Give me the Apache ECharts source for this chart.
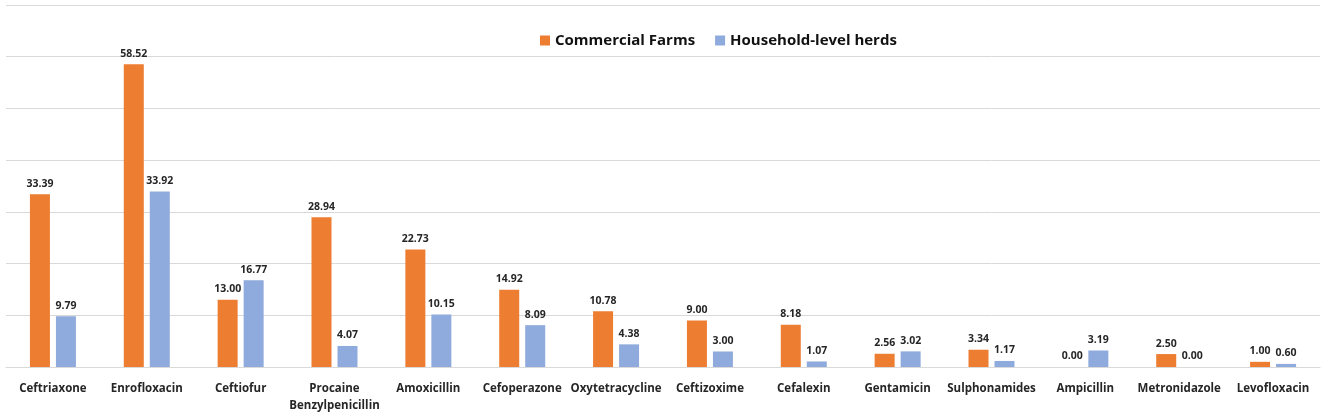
<!DOCTYPE html>
<html>
<head>
<meta charset="utf-8">
<script src="https://cdn.jsdelivr.net/npm/echarts@6/dist/echarts.min.js"></script>
<style>
  html, body { margin: 0; padding: 0; background: #fff; }
  #chart { width: 1325px; height: 414px; }
</style>
</head>
<body>
<div id="chart"></div>
<script>
const categories = ['Ceftriaxone', 'Enrofloxacin', 'Ceftiofur', 'Procaine\nBenzylpenicillin', 'Amoxicillin',
  'Cefoperazone', 'Oxytetracycline', 'Ceftizoxime', 'Cefalexin', 'Gentamicin', 'Sulphonamides',
  'Ampicillin', 'Metronidazole', 'Levofloxacin'];
const commercial = [33.39, 58.52, 13.00, 28.94, 22.73, 14.92, 10.78, 9.00, 8.18, 2.56, 3.34, 0.00, 2.50, 1.00];
const household = [9.79, 33.92, 16.77, 4.07, 10.15, 8.09, 4.38, 3.00, 1.07, 3.02, 1.17, 3.19, 0.00, 0.60];

const FONT = '"Open Sans", sans-serif';
const valueLabel = {
  show: true,
  position: 'top',
  distance: 5,
  fontFamily: FONT,
  fontWeight: 'bold',
  fontSize: 10.5,
  color: '#262626',
  formatter: (p) => p.value.toFixed(2),
};

const chart = echarts.init(document.getElementById('chart'));
chart.setOption({
  animation: false,
  legend: {
    left: 535,
    top: 28,
    itemWidth: 10,
    itemHeight: 10,
    itemGap: 20,
    icon: 'rect',
    textStyle: { fontFamily: FONT, fontWeight: 'bold', fontSize: 15, color: '#111' },
  },
  grid: { left: 6, right: 5, top: 5, bottom: 47 },
  xAxis: {
    type: 'category',
    data: categories,
    axisTick: { show: false },
    axisLine: { lineStyle: { color: '#d9d9d9', width: 1 } },
    axisLabel: {
      fontFamily: FONT, fontWeight: 'bold', fontSize: 11.5, color: '#262626',
      margin: 13, lineHeight: 17, interval: 0,
    },
  },
  yAxis: {
    type: 'value',
    min: 0,
    max: 70,
    interval: 10,
    axisLabel: { show: false },
    axisLine: { show: false },
    axisTick: { show: false },
    splitLine: { lineStyle: { color: '#d9d9d9', width: 1 } },
  },
  series: [
    {
      name: 'Commercial Farms',
      type: 'bar',
      data: commercial,
      barWidth: 20,
      barGap: '30%',
      itemStyle: { color: '#ED7D31' },
      label: valueLabel,
    },
    {
      name: 'Household-level herds',
      type: 'bar',
      data: household,
      barWidth: 20,
      itemStyle: { color: '#8FAADC' },
      label: valueLabel,
    },
  ],
});
</script>
</body>
</html>
